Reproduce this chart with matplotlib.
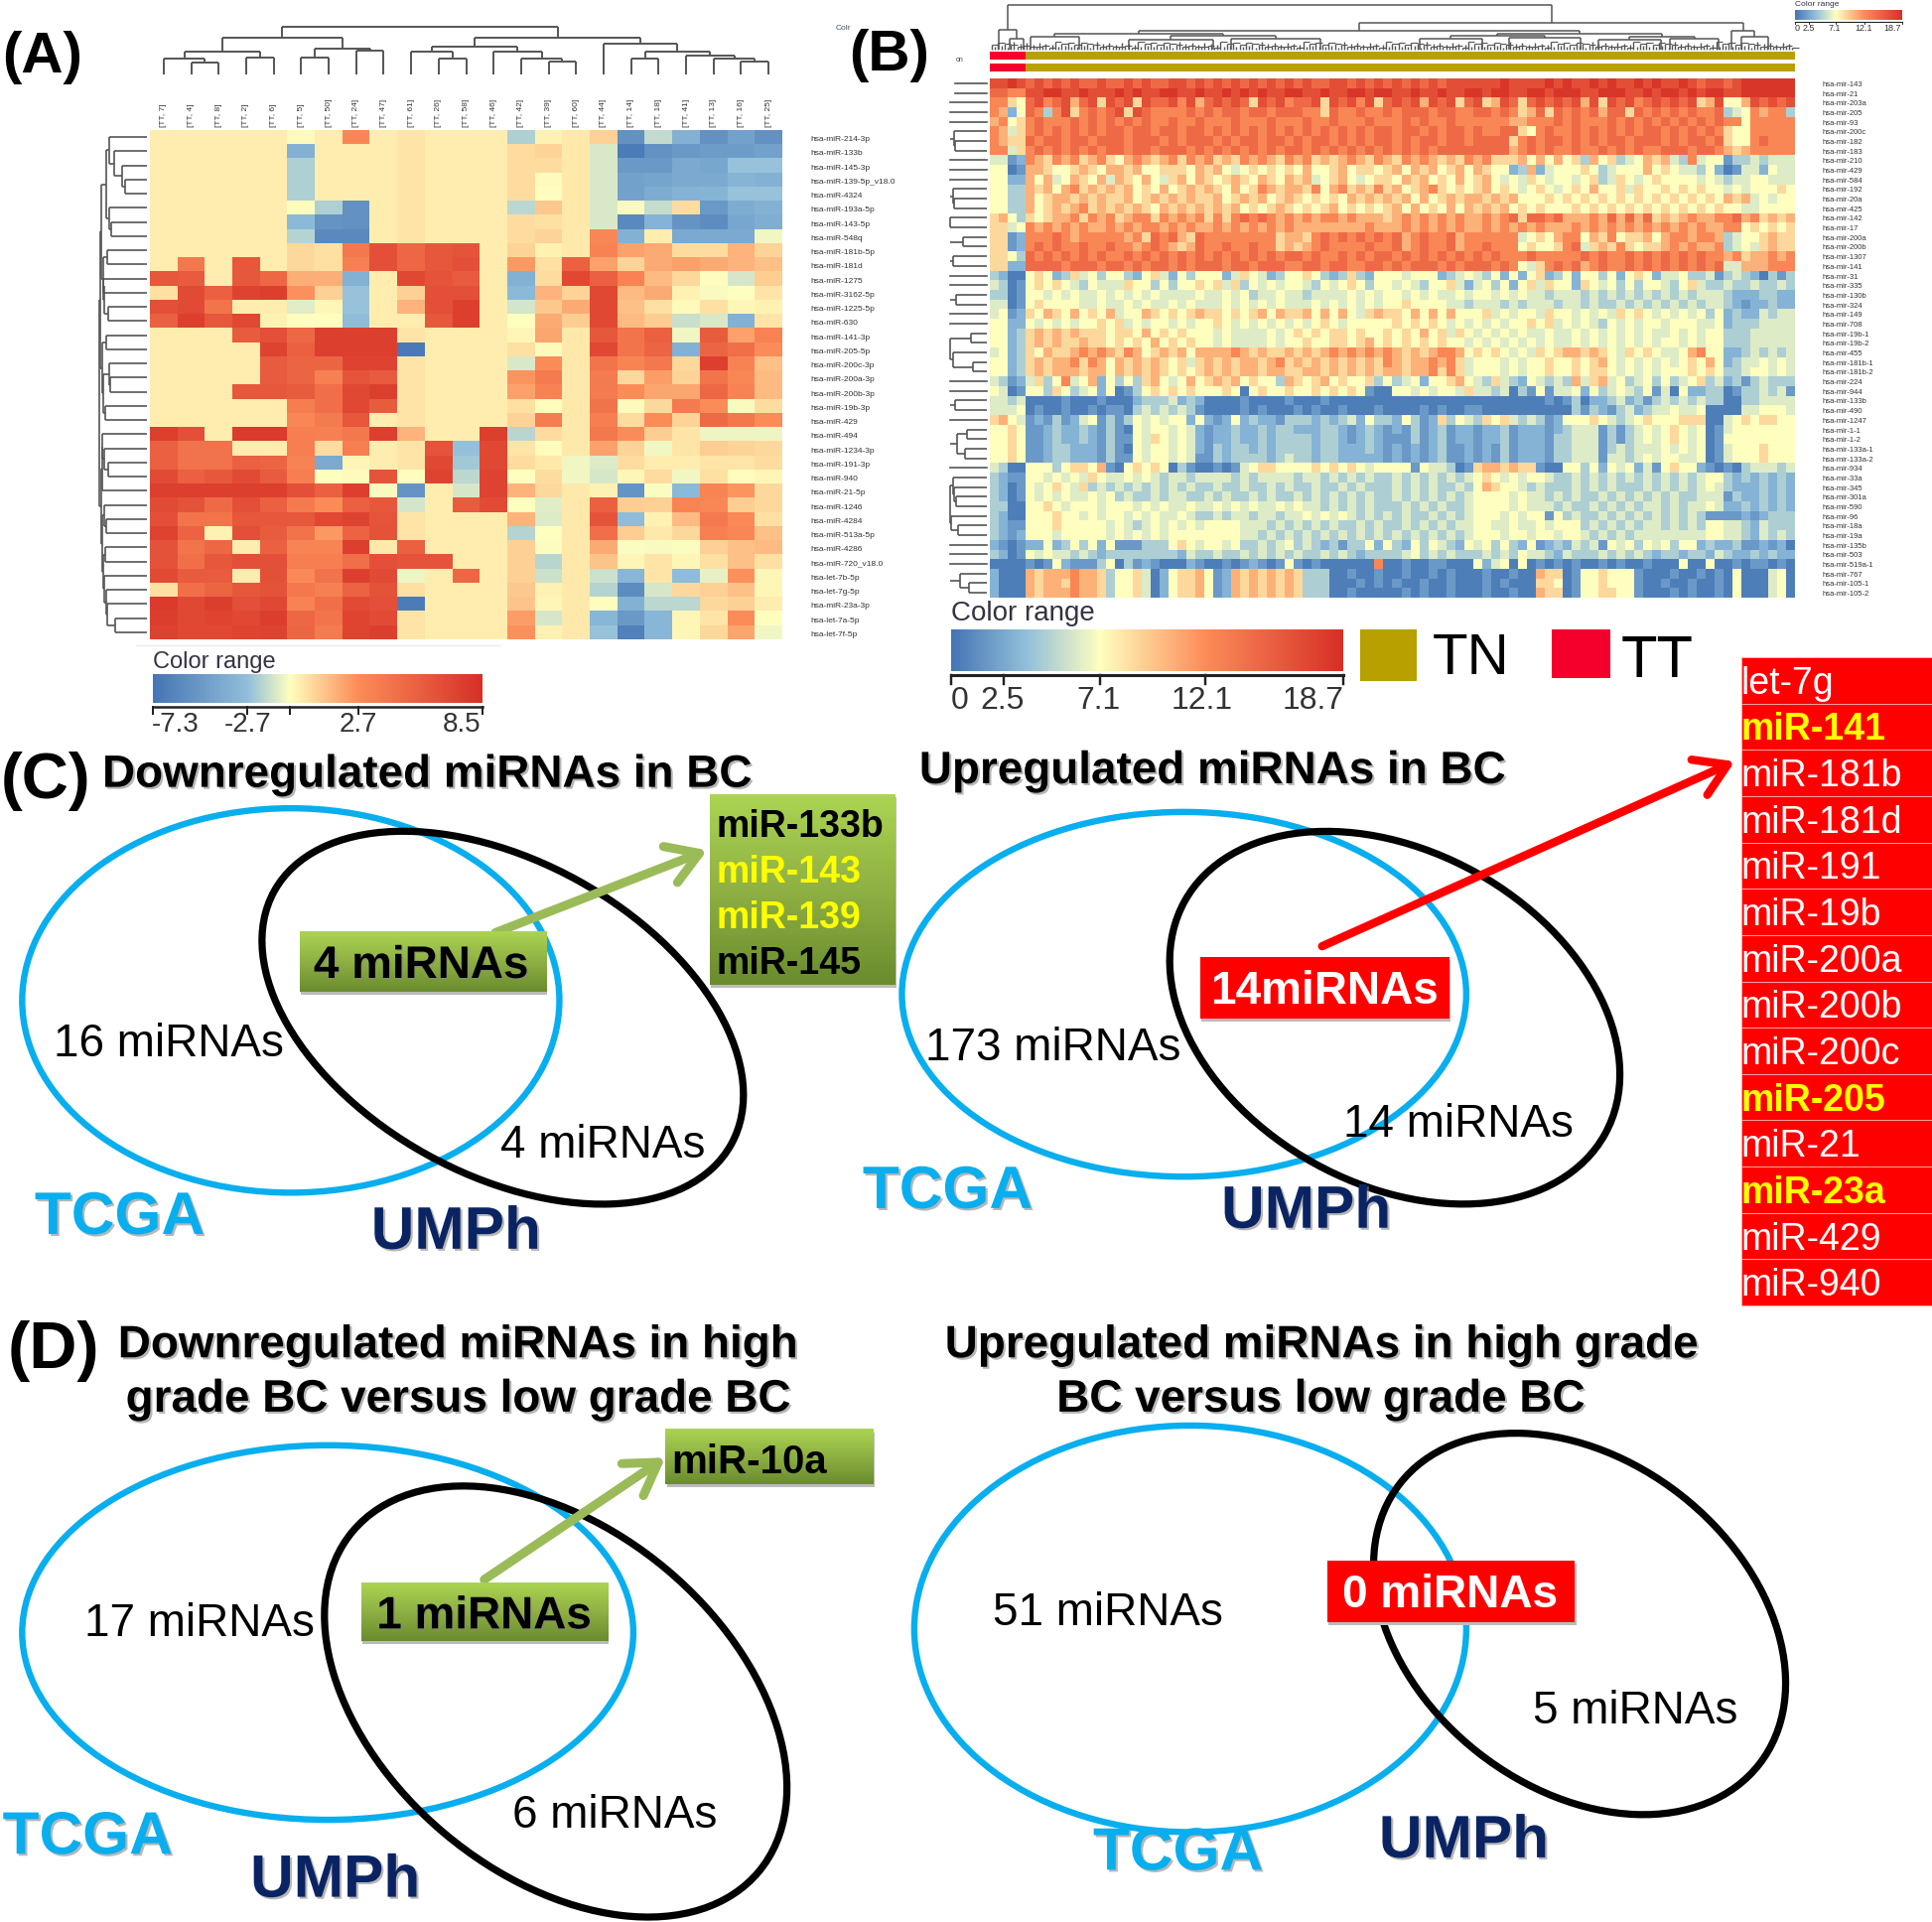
import numpy as np
import matplotlib
matplotlib.use("Agg")
import matplotlib.pyplot as plt
import matplotlib.patheffects as pe
from matplotlib.collections import LineCollection
from matplotlib.colors import LinearSegmentedColormap
from matplotlib.patches import Ellipse, Rectangle

plt.rcParams["font.family"] = ["Liberation Sans", "DejaVu Sans"]

# Panel A
a_columns = ["7", "4", "8", "2", "6", "5", "50", "24", "47", "61", "26", "58", "46",
             "42", "39", "60", "44", "14", "18", "41", "13", "16", "25"]
a_rows = ["hsa-miR-214-3p", "hsa-miR-133b", "hsa-miR-145-3p", "hsa-miR-139-5p_v18.0",
          "hsa-miR-4324", "hsa-miR-193a-5p", "hsa-miR-143-5p", "hsa-miR-548q",
          "hsa-miR-181b-5p", "hsa-miR-181d", "hsa-miR-1275", "hsa-miR-3162-5p",
          "hsa-miR-1225-5p", "hsa-miR-630", "hsa-miR-141-3p", "hsa-miR-205-5p",
          "hsa-miR-200c-3p", "hsa-miR-200a-3p", "hsa-miR-200b-3p", "hsa-miR-19b-3p",
          "hsa-miR-429", "hsa-miR-494", "hsa-miR-1234-3p", "hsa-miR-191-3p", "hsa-miR-940",
          "hsa-miR-21-5p", "hsa-miR-1246", "hsa-miR-4284", "hsa-miR-513a-5p", "hsa-miR-4286",
          "hsa-miR-720_v18.0", "hsa-let-7b-5p", "hsa-let-7g-5p", "hsa-miR-23a-3p",
          "hsa-let-7a-5p", "hsa-let-7f-5p"]
a_values = [
    [.4, .4, .4, .4, .4, .1, .4, 3, .4, .6, .4, .4, .4, -2, .3, .5, 1.1, -5.5, -1.5, -3.5, -5.5, -4.5, -5.5],
    [.4, .4, .4, .4, .4, -3.5, .4, .4, .4, .6, .4, .4, .4, .8, 1, .5, -.9, -6.8, -5.5, -5, -4.8, -4.8, -4.5],
    [.4, .4, .4, .4, .4, -2, .4, .4, .4, .6, .4, .4, .4, .8, .8, .5, -.9, -5, -5, -4, -4.2, -2.5, -2.5],
    [.4, .4, .4, .4, .4, -2, .4, .4, .4, .6, .4, .4, .4, .8, .1, .5, -.9, -4.5, -4.3, -4, -4, -3.3, -3.5],
    [.4, .4, .4, .4, .4, -2, .4, .4, .4, .6, .4, .4, .4, .8, .05, .5, -.9, -4.5, -3.8, -3.4, -3.3, -2.5, -2.5],
    [.4, .4, .4, .4, .4, .05, -2, -5.5, .4, .6, .4, .4, .4, -1.6, 1.3, .5, -.9, -.2, -1.4, .8, -5, -3.8, -3.5],
    [.4, .4, .4, .4, .4, -3, -5.3, -5.5, .4, .6, .4, .4, .4, .8, .7, .5, -.9, -6, -3.4, -5.3, -5.8, -4.2, -3.7],
    [.4, .4, .4, .4, .4, -1.8, -6, -6, .4, .6, .4, .4, .4, .8, 1, .5, 3, -3.5, .4, -4, -4, -4, -.3],
    [.4, .4, .4, .4, .4, .9, .7, 4, 6.5, 5, 6, 6.2, .4, 1, .3, .5, 3.3, 2.2, 2, .8, .8, 1.8, 1],
    [.4, 4, .4, 6, .4, .9, .7, 3.5, 6.5, 5, 6, 6.5, .4, 2.4, .7, 5.5, 2.2, 1, 2, 2.2, 2, 1.8, 1.5],
    [6, 5.8, .4, 6, 5, 1.9, 1.9, -3.5, .4, 7, 6.2, 5.8, .4, -3.5, .8, 7, 5.5, 3.3, 1.6, .9, .05, -1, 1.2],
    [.7, 6.8, 5.5, 7.3, 7.5, 2.6, 1.1, -2.5, .4, 1.1, 6.5, 6.5, .4, -3, 1.8, 1, 7, 1.6, 2, .3, -.2, 0, .6],
    [6.5, 6.8, 4.2, .4, .4, -.7, .2, -2.5, .4, 1.8, 6.5, 7.5, .4, -1.1, 1.3, 2, 7, 1.5, .7, .1, .7, .2, .3],
    [5.5, 7.5, 6, 7, .3, 0, 0, -2.8, .4, .4, 6, 7.5, .4, 0, 2, 1.2, 7, 1.6, 1.2, -1.3, -.9, -3.5, .6],
    [.4, .4, .4, 5.7, 6.5, 5, 7.5, 7.5, 7.5, .6, .4, .4, .4, .2, 2.1, .5, 6, 4.2, 5.5, -.3, 5.7, 2.2, 3.3],
    [.4, .4, .4, .4, 7.3, 5.5, 7.5, 7.5, 7.5, -7, .4, .4, .4, .7, .1, .5, 7, 4.2, 5.2, -3.5, 5.2, 4.5, 2.8],
    [.4, .4, .4, .4, 5.8, 5.2, 5.2, 7.3, 7.3, .6, .4, .4, .4, -.9, 2.7, .5, 4.2, 3.2, 4, .9, 7.5, 3.3, 1.5],
    [.4, .4, .4, .4, 5.8, 5.2, 3.5, 6.2, 5.8, .6, .4, .4, .4, 2.5, 3.8, .5, 3.8, .9, 2.3, 1, 4.2, 3, 1.6],
    [.4, .4, .4, 6, 6, 5.7, 4.5, 7, 7.5, .6, .4, .4, .4, 2.2, 3.3, .5, 3.8, 2.7, 2.1, 2.1, 5, 3.3, 1.6],
    [.4, .4, .4, .4, .4, 3.7, 4.5, 7, 5.7, .6, .4, .4, .4, .7, .05, .5, 4.3, .1, .9, 3.8, 2.7, -.2, .8],
    [.4, .4, .4, .4, .4, 3, 3.8, 6, .4, .6, .4, .4, .4, 1, 3.7, .5, 3.6, .8, 2.7, 1, 4.8, 4, 2.7],
    [7.5, 6.5, .4, 7.8, 7.8, 3.6, 3.5, 4, 7.5, 1.8, .4, .4, 7.5, -1.7, .8, .5, 4, 2.8, 1.2, .6, -.4, -.4, -.4],
    [5.5, 4.3, 4.3, .4, .4, 3.6, .8, 3.6, .4, .6, 6.2, -2.6, 7, .6, .03, .5, 2.2, 1, -.3, .6, 1.2, 1, .9],
    [5.5, 4.3, 4.3, 5.5, 5.2, 3.4, -4, .2, .4, .6, 7, -2.3, 7, .8, .5, -.3, -.8, .8, .4, .4, .6, .6, .8],
    [6.8, 5.5, 6, 6.8, 5.8, 3.6, .02, .1, 6.2, .05, 7.3, -1.6, 7.3, 0, .8, -.3, -1, .2, .8, -.3, .7, .05, .2],
    [7.5, 7.5, 7.5, 7.5, 7.5, 6.5, 5.5, 7.5, -.2, -5.3, .4, -1, 7.3, 1.8, .9, .5, .3, -5.3, -.1, -3, 3.2, 2.5, .9],
    [6.8, 6.3, 4.8, 6.5, 5.5, 3.8, 2.7, 5.5, 6, -1.1, .4, 5.7, 6.8, 0, -.7, .5, 5.5, 1.2, 1.1, 3.2, 3, 1.2, .9],
    [6.5, 4.2, 4.2, 6, 6, 6, 7, 7.3, 6.2, .6, .4, .4, .4, 1.8, -.8, .5, 6.2, -2.8, .3, 1.6, 3.9, 2.9, .7],
    [7.3, 5.3, .3, 6.5, 5.7, 4.3, 2.4, 5.3, 6.3, .6, .4, .4, .4, -1.8, 0, .5, 4.5, 1.2, .5, .9, 3.5, 3, 1.5],
    [6.3, 4.2, 5, .4, 5.5, 3.2, 3.2, 7.5, .5, 5.5, .4, .4, .4, 1.1, -.1, .5, 2, -.1, -.2, -.1, 1.1, 1.5, 1.6],
    [6.3, 4.5, 6, 6.5, 6.5, 3.6, 3.6, 4.5, 6.5, 6.2, 6.2, .4, .4, 1.1, -1.7, .5, 1.4, .2, .6, .2, .7, 1.5, .7],
    [6.8, 5.8, 5.8, .4, 6.5, 2.9, 4.3, 7.5, 6.8, -.4, .4, 5, .4, 1.1, -1.2, .5, -1.2, -3.2, .6, -2.8, -.6, 2.6, .2],
    [.7, 4.5, 5.2, 6, 6.3, 4, 3.5, 5.3, 6.3, .7, .4, .4, .4, 1.3, .3, .5, -1.8, -5.8, -1, .9, 1.1, 1.5, .2],
    [7.8, 7, 7.6, 6.5, 7, 3.3, 4.5, 6.8, 6.5, -6.8, .4, .4, .4, 1.4, .2, .5, .05, -3.5, -1.6, -1.6, .9, 1.1, .4],
    [7.6, 7, 7.2, 7, 7.6, 5, 4.2, 7.2, 6.8, .6, .4, .4, .4, 2.3, -1, .5, -3.2, -5, -3.2, .2, .6, 2.8, .05],
    [7.4, 7, 7, 7.2, 7.3, 5.2, 3.8, 7.2, 7.5, .6, .4, .4, .4, 2.6, .3, .5, -2.5, -6.5, -3.2, .2, .9, 2.1, -.3],
]
a_ticks = [-7.3, -2.7, 0, 2.7, 8.5]
a_tick_fracs = [0, .287, .416, .622, 1]

# merge height, left, right (leaves are column or row indices)
a_top_tree = (48,
              (37,
               (23, (16, 0, (12, 1, 2)), (17, 3, 4)),
               (26, (17, 5, 6), (24, 7, 8))),
              (37,
               (28, (23, 9, (16, 10, 11)), (23, 12, (16, 13, (13, 14, 15)))),
               (31, 16, (23, (16, 17, 18), (19, 19, (16, 20, (13, 21, 22)))))))
a_side_tree = (48,
               (47,
                (46,
                 (41, (38, 0, (33, 1, (25, 2, (22, 3, 4)))), (38, 5, (36, 6, 7))),
                 (44, (40, 8, 9), (43, (44, 10, 11), (39, 12, 13)))),
                (45, (41, 14, 15), (44, (38, 16, (37, 17, 18)), (42, 19, 20)))),
               (46,
                (45, (45, 21, (43, 22, (39, 23, 24))), 25),
                (45,
                 (43, 26, (41, 27, 28)),
                 (44, (42, 29, 30), (43, 31, (41, 32, (40, 33, (32, 34, 35))))))))

# Panel B
b_rows = ["143", "21", "203a", "205", "93", "200c", "182", "183", "210", "429", "584", "192",
          "20a", "425", "142", "17", "200a", "200b", "1307", "141", "31", "335", "130b", "324",
          "149", "708", "19b-1", "19b-2", "455", "181b-1", "181b-2", "224", "944", "133b",
          "490", "1247", "1-1", "1-2", "133a-1", "133a-2", "934", "33a", "345", "301a", "590",
          "96", "18a", "19a", "135b", "503", "519a-1", "767", "105-1", "105-2"]
b_levels = [.5, 1.8, 3, 4.5, 6, 7.1, 8.8, 10.5, 12.5, 14.5, 16.5, 18.2]
# one hex digit per block of samples, a digit indexes b_levels
b_values = [
    "aaba 9a9a9a99a9 9a9a99aa9a 9a9a9a9a9a 9a99aa9a9a 9a9a9a9aaa aaabaaaaba baababaaba baaba9aa9a bbbbbb",
    "9988 aabbaabaaa babaabbaab aabababaab baabaabbab baabaabaab babbaabbab bbaabbbaab abbababbaa bbbbbb",
    "8865 9a89a79a6a 9a6a99a8a7 9a9a96a9a8 99a6a9a8a6 9a9a7a9a69 a67a969a9a 9a7a6a9a89 a9a9a67a55 7a9a9a",
    "8725 9838a68989 a6a9888898 9899899899 9886988988 9899989988 9989867969 8989799698 9898988934 587883",
    "7856 8988898989 8989889889 8889888988 8988988898 8898988988 8888778889 8988898989 8989898988 588888",
    "8746 8989898989 9899899899 8989898989 8989898989 9899898998 9889965898 8989898989 9898989865 588888",
    "8766 9899899899 9899989899 9898998998 9899898989 9898998998 9999689899 8989899899 9898998965 589888",
    "8846 8989898989 9899899989 8989898989 9898989898 9898989999 9999789898 8988989898 8999899876 788888",
    "4412 8768786786 5787678687 8676878768 7867678768 7687876768 7866675757 5637563457 6743845513 343444",
    "5501 7765567657 7675566657 6754565656 5755675665 6757675675 7655237245 5565345557 5654435201 442544",
    "5522 7574576574 7657546757 6567657657 6745675456 6576756575 6754546545 5456346545 6555545434 455444",
    "5533 7675786767 6756575676 7657568767 7685786768 6756786565 6756545654 5657556465 5656565545 455565",
    "5533 7567767676 6756767676 6756767567 6565657676 7675756767 7676755565 6565656565 6565656576 745455",
    "5533 7567678676 7676576767 6767565676 5656756565 6757565757 6767565655 5656565656 5656565655 445555",
    "6753 6567786878 6788687878 6868989878 7878878777 6787878787 7878969989 7778797979 6767877889 786767",
    "6645 8787878778 7878878787 7878787878 7777777787 7787878787 7878787877 7878787878 7878787788 565656",
    "6612 8889878888 8786989769 8888888867 7689898989 8978988978 8888845657 8857685667 5788788734 556766",
    "6612 8989889889 8878987679 8898898867 6789888898 8978988978 8988856556 8946768656 6787877834 546766",
    "6653 9898989898 8989898989 8989898989 9898898989 9898989898 9898889888 8898988989 8989898878 677878",
    "6622 9999899989 9898998989 9989989998 8998998899 8989998989 9989854689 8978988989 8989898944 777888",
    "3200 5652364535 5325642535 5524654235 5653236325 5545552345 4352525623 5255352565 2445334134 320313",
    "4301 5656543544 4655353556 5646354545 5435456535 5454355642 4535256465 5265453535 5435643343 343343",
    "3301 5545454454 5454544445 4454534454 4344445454 5545454454 5545454434 4434343434 3434344432 223322",
    "4401 5655554454 4545445454 4454545454 4454545454 5565555443 4443434443 4434334343 4343434432 122322",
    "4512 6576575657 4557656567 6656567576 6757575467 6657575755 5645455465 5454546565 4545453523 224344",
    "5522 5454545565 6454554545 5654545454 5456545555 5656565454 5454556564 5454354545 5455544523 334444",
    "5523 6767676665 6657565655 5454444545 6565665655 6565756465 4545454454 4545454545 4454545533 344444",
    "5523 6767667665 6565756565 5454444545 5655665675 6565656554 5454545454 4545454545 4554545533 344444",
    "4523 6576678787 6875676757 7778767667 6767878787 8767678875 6565454656 7767654656 5445785522 343434",
    "5523 6767786875 7676765646 7676776786 7676767676 8767787864 5554545565 5656754545 4545657523 445454",
    "5523 6767776775 7676765656 7676776776 6776767676 7767786864 5554545565 5656654545 4555656533 455454",
    "4312 4635845725 3536754575 6767565537 6567565563 5345255675 4364325434 3746745345 3534563423 134333",
    "5401 5536534525 0135656565 5565056556 5565656510 0554545546 4434031514 4525345435 1405223301 334341",
    "4434 0000100010 0023334232 0000100001 0001000000 0000000000 0000000010 1302234231 3434343300 334444",
    "4445 0100100101 1034343431 0000101000 1010010001 0000101001 1000000000 0313213423 4454450000 445554",
    "6754 1213124513 1354545525 2125232213 3323234253 3253126354 3656434312 5556543456 5556660045 656655",
    "5565 1123223213 1054554542 1223223233 2223321232 1213123122 1223122212 3444131345 4565450145 555555",
    "5565 1123223213 1154654542 1223223233 3323321232 1113123122 1223122213 3444131345 4565450155 555555",
    "5565 1123322213 1054554542 1323323233 3323322232 1212123112 1213122213 3444134344 4545450145 556555",
    "5565 1123322213 1154554541 1323333234 3323322222 1212123112 1213122213 3444144345 4554450145 556555",
    "4300 5553566571 0565650310 0101456655 5565656545 5551544301 6776766100 5535254524 1565521010 344434",
    "3211 5545454654 4545434434 4443434444 3443434343 3434343434 5654545543 3434343434 3434345532 323232",
    "3201 5456546343 4343434343 3433433434 3343343433 3434343343 5765543433 3434343334 3434345432 223232",
    "3201 5454544545 3433434433 4343343433 4343434343 3434343434 5555454434 3433434343 4343344413 223232",
    "3300 5565455545 5545454454 4545454454 5443434343 3343434334 5555454443 4334343434 4343445422 323232",
    "3200 5556554545 5454544543 3434434434 4545454343 4343343434 5554545515 3433434343 4343431111 212333",
    "3211 5556555554 5434545454 5555444343 4343433434 3343434344 5544544545 5534343434 4343435544 324333",
    "3212 5554555554 5454545555 5555443434 3434343434 3434343434 5554554554 5543434344 4444445544 324343",
    "2101 2252353525 1113335654 5545334345 3432313352 5325354325 4535325123 2434154535 4535523223 112120",
    "3201 5454434323 3333333243 3433434343 4334343233 3345343433 3434354432 4333434343 2332332432 232322",
    "0000 1015211135 0312100021 0010121015 1010000008 0010011000 5245050101 0100101001 0005005001 011010",
    "2000 7677787763 5564025667 5127676767 6333001001 0010010100 0100100766 0155655510 0010010105 000450",
    "2000 7677687763 5564025667 5127676767 6333000101 0100100100 0101000665 0155655510 0100100105 000450",
    "2000 7677787763 5564025667 5127676767 6333001000 0010100100 0100100766 0155665510 0010100105 000450",
]
b_ticks = [0, 2.5, 7.1, 12.1, 18.7]

b_top_tree = (45,
              (20, 1.0, (11, 2.2, 3.8)),
              (27,
               (19,
                (16, (13, 4.5, 10), (14, (10, 15.5, 25), (11, 27, 37))),
                (16, (14, (11, 48, 55), (12, 58, 66)), (13, (10, 68, 75), (11, 76, 81.5)))),
               (19, 82.9, (13, 84.0, 87))))
b_comb_heights = [5, 3, 7, 4, 6, 2, 5, 8, 3, 6, 4, 7, 3]

# every group hangs from the left of the row dendrogram
b_side_groups = [0, 1, 2, 3, 4, (33, 5, (32, 6, 7)), 8, 9, 10, (34, 11, (33, 12, 13)),
                 (37, 14, 15), (24, 16, 17), (34, 18, 19), 20, 21, (31, 22, 23), 24, 25,
                 (37, (16, 26, 27), (34, 28, (14, 29, 30))), 31, 32, (32, 33, 34), 35,
                 (30, (20, 36, 37), (22, 38, 39)), 40,
                 (37, (34, 41, (33, 42, (31, 43, 44))), (36, 45, (29, 46, 47))),
                 48, 49, 50, (27, 51, (18, 52, 53))]

# Panels C and D
list_genes = ["let-7g", "miR-141", "miR-181b", "miR-181d", "miR-191", "miR-19b", "miR-200a",
              "miR-200b", "miR-200c", "miR-205", "miR-21", "miR-23a", "miR-429", "miR-940"]
list_highlight = ["miR-141", "miR-205", "miR-23a"]
down_genes = ["miR-133b", "miR-143", "miR-139", "miR-145"]
down_highlight = ["miR-143", "miR-139"]

CYAN = "#08aeee"
NAVY = "#0a2463"
GREY = "#555555"
S = 1946 / 1568  # positions below were measured on the 1568 wide view
DY = 3  # va="center" sits a little high for these fonts

heat_cmap_a = LinearSegmentedColormap.from_list(
    "a", [(0, "#4575b4"), (.287, "#91bfdb"), (.416, "#ffffbf"), (.622, "#fc8d59"), (1, "#d73027")])
heat_cmap_b = LinearSegmentedColormap.from_list(
    "b", [(0, "#4575b4"), (.19, "#91bfdb"), (.38, "#ffffbf"), (.646, "#fc8d59"), (1, "#d73027")])
green_cmap = LinearSegmentedColormap.from_list("g", ["#abd452", "#8fb043", "#6a8c2e"])

fig = plt.figure(figsize=(19.46, 19.36), dpi=100)
ax = fig.add_axes((0, 0, 1, 1))
ax.axis("off")


def tree_segments(node, pos, segs):
    if not isinstance(node, tuple):
        return pos(node), 0
    h, left, right = node
    p0, h0 = tree_segments(left, pos, segs)
    p1, h1 = tree_segments(right, pos, segs)
    segs.append(((p0, h0), (p0, h)))
    segs.append(((p1, h1), (p1, h)))
    segs.append(((p0, h), (p1, h)))
    return (p0 + p1) / 2, h


def draw_top_tree(node, pos, base, lw=1.4):
    segs = []
    tree_segments(node, pos, segs)
    lines = [[(x, base - h) for x, h in s] for s in segs]
    ax.add_collection(LineCollection(lines, colors=GREY, linewidths=lw))


def draw_side_tree(node, pos, base, lw=1.2, stub=None):
    segs = []
    p, h = tree_segments(node, pos, segs)
    if stub is not None and stub > h:
        segs.append(((p, h), (p, stub)))
    lines = [[(base - h_, y) for y, h_ in s] for s in segs]
    ax.add_collection(LineCollection(lines, colors=GREY, linewidths=lw))


def color_bar(x0, x1, y0, y1, cmap, fracs, labels, label_x, label_y, label_size, line_y, tick_len, lw):
    ax.imshow(np.linspace(0, 1, 256)[None, :], extent=(x0, x1, y1, y0), aspect="auto", cmap=cmap)
    ax.plot([x0, x1], [line_y, line_y], color="#222222", lw=lw)
    for f in fracs:
        xt = x0 + f * (x1 - x0)
        ax.plot([xt, xt], [line_y, line_y + tick_len], color="#222222", lw=lw * .8)
    for lab, xl in zip(labels, label_x):
        ax.text(xl, label_y, lab, ha="center", va="center", fontsize=label_size, color="#333333")


def venn_ring(cx, cy, a, b, angle, color, lw=4.6, z=3):
    ax.add_patch(Ellipse((cx * S, cy * S), 2 * a * S, 2 * b * S, angle=angle, fill=False,
                         edgecolor=color, lw=lw, zorder=z))


def shadow_text(x, y, s, size, color="black", weight="bold", ha="center", off=1.5):
    ax.text(x * S, (y + DY) * S, s, fontsize=size, color=color, weight=weight, ha=ha, va="center", zorder=7,
            path_effects=[pe.withSimplePatchShadow(offset=(off, -off), shadow_rgbFace="#888888", alpha=.6)])


def plain_text(x, y, s, size=33):
    ax.text(x * S, (y + DY) * S, s, fontsize=size, ha="center", va="center", zorder=7)


def shadow_box(x0, y0, x1, y1):
    ax.add_patch(Rectangle((x0 * S + 1.5, y0 * S + 3), (x1 - x0) * S, (y1 - y0) * S,
                           facecolor="#bbbbbb", edgecolor="none", zorder=4))


def green_box(x0, y0, x1, y1):
    shadow_box(x0, y0, x1, y1)
    ax.imshow(np.linspace(0, 1, 64)[:, None], extent=(x0 * S, x1 * S, y1 * S, y0 * S), aspect="auto",
              cmap=green_cmap, zorder=5)


def red_box(x0, y0, x1, y1):
    shadow_box(x0, y0, x1, y1)
    ax.add_patch(Rectangle((x0 * S, y0 * S), (x1 - x0) * S, (y1 - y0) * S,
                           facecolor="#ff0000", edgecolor="none", zorder=5))


def arrow(x0, y0, x1, y1, color, lw=6.5):
    ax.annotate("", xy=(x1 * S, y1 * S), xytext=(x0 * S, y0 * S), zorder=4,
                arrowprops=dict(arrowstyle="->,head_length=0.45,head_width=0.28",
                                color=color, lw=lw, shrinkA=0, shrinkB=0, mutation_scale=50,
                                capstyle="round"))


# ---- Panel A
ax_l, ax_r, ax_t, ax_b = 151, 788, 131, 644
a_arr = np.array(a_values)
ax.imshow(np.interp(a_arr, a_ticks, a_tick_fracs), extent=(ax_l, ax_r, ax_b, ax_t), aspect="auto",
          cmap=heat_cmap_a, vmin=0, vmax=1, interpolation="nearest")
a_dx = (ax_r - ax_l) / a_arr.shape[1]
a_dy = (ax_b - ax_t) / a_arr.shape[0]
for i, c in enumerate(a_columns):
    ax.text(ax_l + a_dx * (i + .5), 128, f"[TT, {c}]", rotation=90, ha="center", va="bottom",
            fontsize=6, color="#333333")
for i, r in enumerate(a_rows):
    ax.text(816, ax_t + a_dy * (i + .5) + 2.5, r, ha="left", va="center", fontsize=6, color="#333333")
draw_top_tree(a_top_tree, lambda i: ax_l + a_dx * (i + .5), 75)
draw_side_tree(a_side_tree, lambda i: ax_t + a_dy * (i + .5), 148)
ax.plot([137, 504], [650, 650], color="#eeeeee", lw=1)
ax.text(154, 667, "Color range", fontsize=17, color="#333344", ha="left", va="center")
color_bar(154, 486, 679, 708, heat_cmap_a, a_tick_fracs, ["-7.3", "-2.7", "2.7", "8.5"],
          [177, 250, 361, 465], 730, 20, 712, 7, 1.8)
ax.text(842, 28, "Colr", fontsize=6, color="#445566", ha="left", va="center")

# ---- Panel B
bx_l, bx_r, by_t, by_b = 997, 1808, 79, 602
b_compact = [r.replace(" ", "") for r in b_values]
assert all(len(r) == 90 for r in b_compact), [i for i, r in enumerate(b_compact) if len(r) != 90]
b_arr = np.array([[b_levels[int(ch, 16)] for ch in r] for r in b_compact])
ax.imshow(b_arr, extent=(bx_l, bx_r, by_b, by_t), aspect="auto", cmap=heat_cmap_b, vmin=0, vmax=18.7,
          interpolation="nearest")
b_dy = (by_b - by_t) / b_arr.shape[0]
b_dx = (bx_r - bx_l) / b_arr.shape[1]
for i, r in enumerate(b_rows):
    ax.text(1835, by_t + b_dy * (i + .5) + 1.5, f"hsa-mir-{r}", ha="left", va="center", fontsize=5.5,
            color="#333333")
# annotation strips
for y0 in [52, 64]:
    ax.add_patch(Rectangle((bx_l, y0), 4 * b_dx, 8, facecolor="#f5002d", edgecolor="none"))
    ax.add_patch(Rectangle((bx_l + 4 * b_dx, y0), bx_r - bx_l - 4 * b_dx, 8, facecolor="#b8a000",
                           edgecolor="none"))
ax.text(967, 60, "on", fontsize=5, color="#444444", ha="center", va="center")
draw_top_tree(b_top_tree, lambda c: bx_l + b_dx * c, 50, lw=1.1)
comb_x = np.arange(bx_l + 2, bx_r, 3.2)
comb_h = np.resize(b_comb_heights, comb_x.size)
ax.vlines(comb_x, 50 - comb_h, 50, color=GREY, lw=1.0)
ax.hlines(50 - comb_h[::2], comb_x[::2], comb_x[::2] + 6.4, color=GREY, lw=.8)
for group in b_side_groups:
    if isinstance(group, tuple):
        draw_side_tree(group, lambda i: by_t + b_dy * (i + .5), 994, stub=37)
    else:
        y = by_t + b_dy * (group + .5)
        ax.plot([994 - (32 if group < 2 else 37), 994], [y, y], color=GREY, lw=1.2)
# small colour range
ax.text(1808, 5, "Color range", fontsize=6, color="#333344", ha="left", va="center")
color_bar(1808, 1916, 10, 20, heat_cmap_b, [t / 18.7 for t in b_ticks],
          ["0", "2.5", "7.1", "12.1", "18.7"], [1810, 1822, 1848, 1877, 1906], 28.5, 6.5, 22, 2, .8)
# large colour range
ax.text(958, 618, "Color range", fontsize=20, color="#333344", ha="left", va="center")
color_bar(958, 1353, 634, 676, heat_cmap_b, [t / 18.7 for t in b_ticks],
          ["0", "2.5", "7.1", "12.1", "18.7"], [967, 1010, 1106, 1211, 1323], 706, 23, 680, 9, 2.2)
ax.add_patch(Rectangle((1370, 634), 57, 52, facecolor="#b8a000", edgecolor="none"))
ax.add_patch(Rectangle((1563, 634), 59, 49, facecolor="#f5002d", edgecolor="none"))
ax.text(1443, 664, "TN", fontsize=42, ha="left", va="center")
ax.text(1633, 667, "TT", fontsize=43, ha="left", va="center")

# ---- Panel letters
for x, y, s, size in [(2, 47, "(A)", 42), (689, 45, "(B)", 42), (1, 634, "(C)", 47), (6, 1097, "(D)", 48)]:
    ax.text(x * S, y * S, s, fontsize=size, weight="bold", ha="left", va="center", zorder=7)

# ---- Panel C left
shadow_text(83, 626, "Downregulated miRNAs in BC", 33, ha="left")
venn_ring(236, 812, 218, 156, 0, CYAN)
venn_ring(408, 826, 212, 127, 29, "black", lw=5.2, z=3.2)
arrow(402, 757, 574, 690, "#9bbb59")
green_box(243, 756, 443, 805)
shadow_text(342, 781, "4 miRNAs", 33, off=1)
green_box(576, 645, 726, 799)
for i, g in enumerate(down_genes):
    ax.text(581 * S, (671 + 37 * i) * S, g, fontsize=27, weight="bold", ha="left", va="center", zorder=7,
            color="#ffff00" if g in down_highlight else "black")
plain_text(137, 845, "16 miRNAs")
plain_text(489, 927, "4 miRNAs")
shadow_text(97, 986, "TCGA", 43.5, color=CYAN)
shadow_text(370, 998, "UMPh", 43.5, color=NAVY)

# ---- Panel C right
shadow_text(746, 623, "Upregulated miRNAs in BC", 33, ha="left")
venn_ring(961, 807, 229, 148, 0, CYAN)
venn_ring(1132, 826, 195, 135, 29, "black", lw=5.2, z=3.2)
arrow(1073, 768, 1408, 618, "#ff0000", lw=6)
red_box(974, 777, 1176, 827)
ax.text(1075 * S, 805 * S, "14miRNAs", fontsize=33, weight="bold", color="white", ha="center",
        va="center", zorder=7)
plain_text(855, 848, "173 miRNAs")
plain_text(1184, 910, "14 miRNAs")
shadow_text(769, 965, "TCGA", 43.5, color=CYAN)
shadow_text(1060, 981, "UMPh", 43.5, color=NAVY)

# gene list next to panel C
list_top, list_h = 662, (1315 - 662) / len(list_genes)
for i, g in enumerate(list_genes):
    y0 = list_top + list_h * i
    ax.add_patch(Rectangle((1754, y0), 192, list_h, facecolor="#ff0000", edgecolor="#ffb0b0", lw=.6))
    hi = g in list_highlight
    ax.text(1753, y0 + list_h / 2 + 3.5, g, fontsize=27, ha="left", va="center", zorder=7,
            weight="bold" if hi else "normal", color="#ffff00" if hi else "white")

# ---- Panel D left
shadow_text(372, 1089, "Downregulated miRNAs in high", 33)
shadow_text(372, 1133, "grade BC versus low grade BC", 33)
venn_ring(266, 1325, 248, 152, 0, CYAN)
venn_ring(451, 1381, 215, 140, 40, "black", lw=5.2, z=3.2)
arrow(393, 1282, 540, 1183, "#9bbb59")
green_box(293, 1285, 493, 1332)
shadow_text(393, 1309, "1 miRNAs", 33, off=1)
green_box(540, 1160, 709, 1205)
ax.text(545 * S, 1187 * S, "miR-10a", fontsize=29, weight="bold", ha="left", va="center", zorder=7)
plain_text(162, 1315, "17 miRNAs")
plain_text(499, 1471, "6 miRNAs")
shadow_text(71, 1489, "TCGA", 43.5, color=CYAN)
shadow_text(272, 1524, "UMPh", 43.5, color=NAVY)

# ---- Panel D right
shadow_text(1073, 1089, "Upregulated miRNAs in high grade", 33)
shadow_text(1072, 1133, "BC versus low grade BC", 33)
venn_ring(966, 1322, 224, 165, 0, CYAN)
venn_ring(1282, 1318, 185, 133, 38, "black", lw=5.2, z=3.2)
red_box(1077, 1267, 1278, 1317)
ax.text(1177 * S, 1295 * S, "0 miRNAs", fontsize=33, weight="bold", color="white", ha="center",
        va="center", zorder=7)
plain_text(899, 1306, "51 miRNAs")
plain_text(1327, 1386, "5 miRNAs")
shadow_text(956, 1502, "TCGA", 43.5, color=CYAN)
shadow_text(1188, 1492, "UMPh", 43.5, color=NAVY)

ax.set_xlim(0, 1946)
ax.set_ylim(1936, 0)
fig.savefig("out.png", dpi=100, facecolor="white")
